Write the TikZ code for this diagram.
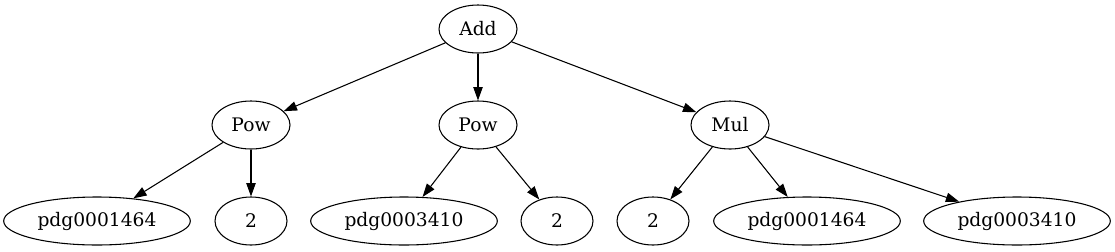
\documentclass[tikz,border=0pt]{standalone}
\usepackage{fontspec}
\setmainfont{DejaVu Serif}
\usetikzlibrary{positioning,arrows.meta,shapes.geometric}

\begin{document}
\begin{tikzpicture}[
    x=0.75pt, y=-0.75pt,
    every node/.style={draw, ellipse, line width=0.8pt, inner sep=0pt, minimum width=54pt, minimum height=36pt, font=\fontsize{14}{16}\selectfont},
    opnode/.style={minimum width=58.5pt},
    varnode/.style={minimum width=140pt},
    link/.style={-{Triangle[length=10pt,width=7pt]}, line width=0.8pt}
]
    \useasboundingbox (0,0) rectangle (1115,251);

    \node[opnode] (add) at (478,29) {Add};

    \node[opnode] (pow1) at (251,125) {Pow};
    \node[opnode] (pow2) at (478,125) {Pow};
    \node[opnode] (mul) at (730,125) {Mul};

    \node[varnode] (pdgA) at (97,221) {pdg0001464};
    \node (twoA) at (251,221) {2};
    \node[varnode] (pdgB) at (404,221) {pdg0003410};
    \node (twoB) at (557,221) {2};
    \node (twoC) at (653,221) {2};
    \node[varnode] (pdgC) at (807,221) {pdg0001464};
    \node[varnode] (pdgD) at (1017,221) {pdg0003410};

    \draw[link] (add) -- (pow1);
    \draw[link] (add) -- (pow2);
    \draw[link] (add) -- (mul);

    \draw[link] (pow1) -- (pdgA);
    \draw[link] (pow1) -- (twoA);
    \draw[link] (pow2) -- (pdgB);
    \draw[link] (pow2) -- (twoB);

    \draw[link] (mul) -- (twoC);
    \draw[link] (mul) -- (pdgC);
    \draw[link] (mul) -- (pdgD);
\end{tikzpicture}
\end{document}
